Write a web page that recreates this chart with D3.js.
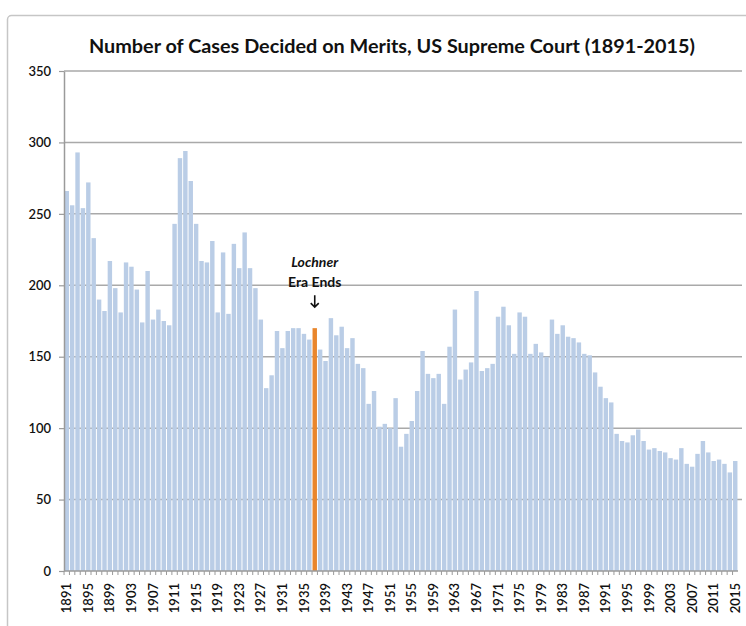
<!DOCTYPE html>
<html><head><meta charset="utf-8">
<script src="https://cdn.jsdelivr.net/npm/d3@7"></script>
<style>body{margin:0;background:#fff}svg{display:block}</style>
</head><body>
<script>
const years = d3.range(1891, 2016);
const cases = [
  266,256,293,254,272,233,190,182,217,198,
  181,216,213,197,174,210,176,183,175,172,
  243,289,294,273,243,217,216,231,181,223,
  180,229,212,237,212,198,176,128,137,168,
  156,168,170,170,166,162,170,155,147,177,
  165,171,156,163,145,142,117,126,101,103,
  100,121,87,96,105,126,154,138,135,138,
  117,157,183,134,141,146,196,140,142,145,
  178,185,172,152,181,178,152,159,153,150,
  176,166,172,164,163,160,152,151,139,129,
  121,118,96,91,90,95,99,91,85,86,
  84,83,79,78,86,75,73,82,91,83,
  77,78,75,69,77
];
const tickYears = [1891,1895,1899,1903,1907,1911,1915,1919,1923,1927,1931,1935,1939,1943,1947,1951,1955,1959,1963,1967,1971,1975,1979,1983,1987,1991,1995,1999,2003,2007,2011,2015];
const yTicks = [0,50,100,150,200,250,300,350];
const highlightYear = 1937;
const titleText = "Number of Cases Decided on Merits, US Supreme Court (1891-2015)";
const noteLines = ["Lochner", "Era Ends"];

const data = years.map((yr, i) => ({year: yr, value: cases[i]}));

const W = 746, H = 626;
const FONT = "Lato, 'Open Sans', sans-serif";
const svg = d3.select("body").append("svg").attr("width", W).attr("height", H);
svg.append("rect").attr("width", W).attr("height", H).attr("fill", "#fff");

// outer chart frame
svg.append("rect").attr("x", 7.5).attr("y", 15.5).attr("width", W + 40).attr("height", H + 40)
  .attr("rx", 4).attr("fill", "none").attr("stroke", "#c6c6c6").attr("stroke-width", 1.5);

const x = d3.scaleBand().domain(years).range([64, 738]).paddingInner(0.18).paddingOuter(0.1);
const y = d3.scaleLinear().domain([0, 350]).range([571, 71]);

// gridlines
svg.append("g").selectAll("line").data(yTicks.filter(d => d > 0)).join("line")
  .attr("x1", 64).attr("x2", 742)
  .attr("y1", d => y(d)).attr("y2", d => y(d))
  .attr("stroke", "#a9a9a9").attr("stroke-width", 1.5);

// bars
svg.append("g").selectAll("rect").data(data).join("rect")
  .attr("x", d => x(d.year))
  .attr("width", x.bandwidth())
  .attr("y", d => y(d.value))
  .attr("height", d => y(0) - y(d.value))
  .attr("fill", d => d.year === highlightYear ? "#e9862c" : "#bacde6");

// y axis
const yAxis = svg.append("g").attr("transform", "translate(64,0)")
  .call(d3.axisLeft(y).tickValues(yTicks).tickSize(5).tickSizeOuter(0).tickPadding(8));
yAxis.select(".domain").attr("stroke", "#9a9a9a").attr("stroke-width", 1.5);
yAxis.selectAll(".tick line").attr("stroke", "#9a9a9a").attr("stroke-width", 1.2);
yAxis.selectAll("text").attr("font-family", FONT).attr("font-size", 13)
  .attr("font-weight", 600).attr("fill", "#111");

// x axis baseline + per-bar ticks
const xAxisG = svg.append("g").attr("transform", `translate(0,${y(0)})`);
xAxisG.append("line").attr("x1", 64).attr("x2", 738).attr("y1", 0).attr("y2", 0)
  .attr("stroke", "#9a9a9a").attr("stroke-width", 1.5);
xAxisG.append("g").selectAll("line").data(years).join("line")
  .attr("x1", d => x(d) - x.step() * x.paddingInner() / 2)
  .attr("x2", d => x(d) - x.step() * x.paddingInner() / 2)
  .attr("y1", 0).attr("y2", 4)
  .attr("stroke", "#9a9a9a").attr("stroke-width", 1);

const xAxis = svg.append("g").attr("transform", `translate(0,${y(0)})`)
  .call(d3.axisBottom(x).tickValues(tickYears).tickSize(0).tickSizeOuter(0));
xAxis.select(".domain").remove();
xAxis.selectAll("text")
  .attr("transform", "rotate(-90)")
  .attr("text-anchor", "end")
  .attr("x", -12).attr("y", 0).attr("dy", "0.35em")
  .attr("font-family", FONT).attr("font-size", 13).attr("font-weight", 600).attr("fill", "#111");

// title
const t = svg.append("text").attr("x", 392).attr("y", 53).attr("text-anchor", "middle")
  .attr("font-family", FONT).attr("font-weight", "bold").attr("font-size", 18.5).attr("fill", "#111")
  .text(titleText);
const tl = t.node().getComputedTextLength();
if (Math.abs(tl - 606) > 4) t.attr("textLength", 606).attr("lengthAdjust", "spacingAndGlyphs");

// annotation
const cx = x(highlightYear) + x.bandwidth() / 2;
const hv = cases[years.indexOf(highlightYear)];
svg.append("text").attr("x", cx).attr("y", y(hv) - 61).attr("text-anchor", "middle")
  .attr("font-family", FONT).attr("font-weight", "bold").attr("font-style", "italic")
  .attr("font-size", 14).attr("fill", "#111").text(noteLines[0]);
svg.append("text").attr("x", cx).attr("y", y(hv) - 41).attr("text-anchor", "middle")
  .attr("font-family", FONT).attr("font-weight", "bold")
  .attr("font-size", 14).attr("fill", "#111").text(noteLines[1]);
const aTop = y(hv) - 33, aBot = y(hv) - 21;
svg.append("path")
  .attr("d", `M${cx},${aTop}L${cx},${aBot}M${cx-4},${aBot-4}L${cx},${aBot}L${cx+4},${aBot-4}`)
  .attr("fill", "none").attr("stroke", "#111").attr("stroke-width", 1.6);
</script>
</body></html>
